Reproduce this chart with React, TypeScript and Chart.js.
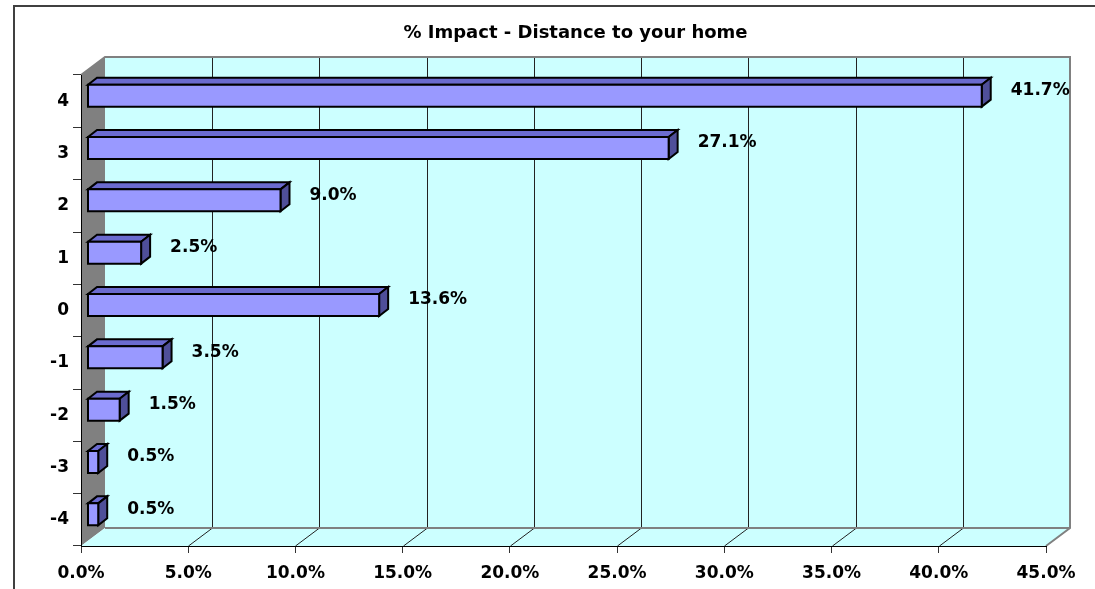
import React, { useEffect, useRef } from "react";
import { Chart, registerables } from "chart.js";

Chart.register(...registerables);

const TITLE = "% Impact - Distance to your home";
const CATEGORIES = ["4", "3", "2", "1", "0", "-1", "-2", "-3", "-4"];
const VALUES = [41.7, 27.1, 9.0, 2.5, 13.6, 3.5, 1.5, 0.5, 0.5];
const X_MIN = 0;
const X_MAX = 45;
const X_STEP = 5;

const FONT = "'DejaVu Sans', 'Liberation Sans', Arial, sans-serif";

// 3D geometry (pixels)
const WALL_DX = 24;
const WALL_DY = -18;
const BAR_SHIFT_X = 6.5;
const BAR_SHIFT_Y = -5.5;
const BAR_DX = 9;
const BAR_DY = -7;

const threeD = {
  id: "threeD",
  beforeDraw(chart: any) {
    const ctx = chart.ctx as CanvasRenderingContext2D;
    const { left: L, right: R, top: T, bottom: B } = chart.chartArea;
    const xs = chart.scales.x;
    ctx.save();
    // outer border
    ctx.strokeStyle = "#404040";
    ctx.lineWidth = 2;
    ctx.strokeRect(14, 6, 1200, 700);
    // title
    ctx.fillStyle = "#000";
    ctx.font = `bold 18px ${FONT}`;
    ctx.textAlign = "center";
    ctx.textBaseline = "middle";
    ctx.fillText(TITLE, (L + R + WALL_DX) / 2, 33);

    // side wall
    ctx.fillStyle = "#808080";
    ctx.beginPath();
    ctx.moveTo(L, T);
    ctx.lineTo(L + WALL_DX, T + WALL_DY);
    ctx.lineTo(L + WALL_DX, B + WALL_DY);
    ctx.lineTo(L, B);
    ctx.closePath();
    ctx.fill();
    // floor
    ctx.fillStyle = "#CCFFFF";
    ctx.beginPath();
    ctx.moveTo(L, B);
    ctx.lineTo(L + WALL_DX, B + WALL_DY);
    ctx.lineTo(R + WALL_DX, B + WALL_DY);
    ctx.lineTo(R, B);
    ctx.closePath();
    ctx.fill();
    // back wall
    ctx.fillRect(L + WALL_DX, T + WALL_DY, R - L, B - T);

    // gridlines
    ctx.strokeStyle = "#222";
    ctx.lineWidth = 1;
    for (let v = X_MIN + X_STEP; v < X_MAX; v += X_STEP) {
      const px = Math.round(xs.getPixelForValue(v)) + 0.5;
      ctx.beginPath();
      ctx.moveTo(px + WALL_DX, T + WALL_DY);
      ctx.lineTo(px + WALL_DX, B + WALL_DY);
      ctx.moveTo(px, B);
      ctx.lineTo(px + WALL_DX, B + WALL_DY);
      ctx.stroke();
    }
    // wall edges
    ctx.strokeStyle = "#808080";
    ctx.lineWidth = 2;
    ctx.beginPath();
    ctx.moveTo(L, T);
    ctx.lineTo(L + WALL_DX, T + WALL_DY);
    ctx.lineTo(R + WALL_DX, T + WALL_DY);
    ctx.lineTo(R + WALL_DX, B + WALL_DY);
    ctx.lineTo(R, B);
    ctx.moveTo(L + WALL_DX, B + WALL_DY);
    ctx.lineTo(R + WALL_DX, B + WALL_DY);
    ctx.stroke();
    ctx.restore();
  },
  afterDatasetsDraw(chart: any) {
    const ctx = chart.ctx as CanvasRenderingContext2D;
    const meta = chart.getDatasetMeta(0);
    ctx.save();
    ctx.lineWidth = 2;
    ctx.strokeStyle = "#000";
    ctx.lineJoin = "miter";
    meta.data.forEach((el: any, i: number) => {
      const { x, y, base, height } = el.getProps(["x", "y", "base", "height"], true);
      const x0 = base + BAR_SHIFT_X;
      const x1 = x + BAR_SHIFT_X;
      const yc = y + BAR_SHIFT_Y;
      const y0 = yc - height / 2;
      const y1 = yc + height / 2;
      // top face
      ctx.fillStyle = "#6B6BCF";
      ctx.beginPath();
      ctx.moveTo(x0, y0);
      ctx.lineTo(x0 + BAR_DX, y0 + BAR_DY);
      ctx.lineTo(x1 + BAR_DX, y0 + BAR_DY);
      ctx.lineTo(x1, y0);
      ctx.closePath();
      ctx.fill();
      ctx.stroke();
      // side face
      ctx.fillStyle = "#4F4F99";
      ctx.beginPath();
      ctx.moveTo(x1, y0);
      ctx.lineTo(x1 + BAR_DX, y0 + BAR_DY);
      ctx.lineTo(x1 + BAR_DX, y1 + BAR_DY);
      ctx.lineTo(x1, y1);
      ctx.closePath();
      ctx.fill();
      ctx.stroke();
      // front face
      ctx.fillStyle = "#9999FF";
      ctx.beginPath();
      ctx.rect(x0, y0, x1 - x0, y1 - y0);
      ctx.fill();
      ctx.stroke();
      // label
      ctx.fillStyle = "#000";
      ctx.font = `bold 17px ${FONT}`;
      ctx.textAlign = "left";
      ctx.textBaseline = "middle";
      ctx.fillText(VALUES[i].toFixed(1) + "%", x1 + 29, yc - 5);
    });
    ctx.restore();
  },
};

export default function App() {
  const ref = useRef<HTMLCanvasElement | null>(null);
  useEffect(() => {
    if (!ref.current) return;
    const chart = new Chart(ref.current, {
      type: "bar",
      data: {
        labels: CATEGORIES,
        datasets: [
          {
            data: VALUES,
            backgroundColor: "rgba(0,0,0,0)",
            borderWidth: 0,
            barPercentage: 0.42,
            categoryPercentage: 1,
          },
        ],
      },
      options: {
        indexAxis: "y",
        animation: false,
        responsive: false,
        layout: { padding: { top: 75, right: 49, bottom: 0, left: 0 } },
        plugins: {
          legend: { display: false },
          title: { display: false },
          tooltip: { enabled: false },
        },
        scales: {
          x: {
            type: "linear",
            min: X_MIN,
            max: X_MAX,
            afterFit: (s: any) => {
              s.height = 43;
            },
            ticks: {
              stepSize: X_STEP,
              maxRotation: 0,
              autoSkip: false,
              padding: 10,
              color: "#000",
              font: { family: FONT, size: 17, weight: "bold" },
              callback: (v: any) => Number(v).toFixed(1) + "%",
            },
            grid: {
              drawOnChartArea: false,
              drawTicks: true,
              tickLength: 7,
              tickColor: "#333",
              color: "#333",
            },
            border: { display: true, color: "#000", width: 1 },
          },
          y: {
            type: "category",
            afterFit: (s: any) => {
              s.width = 81;
            },
            ticks: {
              padding: 4,
              color: "#000",
              font: { family: FONT, size: 17, weight: "bold" },
            },
            grid: {
              offset: true,
              drawOnChartArea: false,
              drawTicks: true,
              tickLength: 8,
              tickColor: "#333",
              color: "#333",
            },
            border: { display: true, color: "#000", width: 1 },
          },
        },
      },
      plugins: [threeD],
    });
    return () => chart.destroy();
  }, []);
  return (
    <div style={{ position: "fixed", left: 0, top: 0, width: 1095, height: 589, background: "#fff" }}>
      <canvas ref={ref} width={1095} height={589} style={{ display: "block" }} />
    </div>
  );
}
